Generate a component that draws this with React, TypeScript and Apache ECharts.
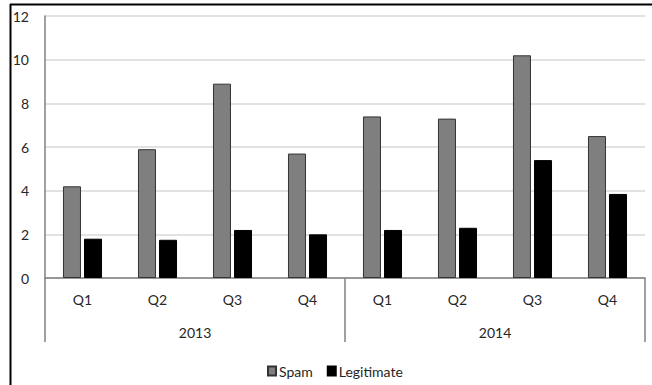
import React, { useEffect, useRef } from "react";
import * as echarts from "echarts";

const quarters = ["Q1", "Q2", "Q3", "Q4", "Q1", "Q2", "Q3", "Q4"];
const years = ["2013", "2014"];
const spam = [4.2, 5.9, 8.9, 5.7, 7.4, 7.3, 10.2, 6.5];
const legitimate = [1.8, 1.75, 2.2, 2.0, 2.2, 2.3, 5.4, 3.85];
const yTicks = { min: 0, max: 12, interval: 2 };

const FONT = "Lato, 'Open Sans', sans-serif";
const TEXT = "#262626";
const FS = 14;

export default function App() {
  const ref = useRef<HTMLDivElement>(null);
  useEffect(() => {
    if (!ref.current) return;
    const chart = echarts.init(ref.current, null, { renderer: "svg" });
    chart.setOption({
      animation: false,
      backgroundColor: "#fff",
      textStyle: { fontFamily: FONT },
      grid: { left: 45, right: 7, top: 16, bottom: 107, containLabel: false },
      legend: {
        data: ["Spam", "Legitimate"],
        left: 262,
        top: 359,
        itemWidth: 8,
        itemHeight: 9,
        itemGap: 14,
        icon: "rect",
        textStyle: { fontFamily: FONT, fontSize: FS, color: TEXT, padding: [0, 0, 0, -2] },
      },
      xAxis: [
        {
          type: "category",
          data: quarters,
          position: "bottom",
          axisLine: { show: true, lineStyle: { color: "#808080", width: 1.5 } },
          axisTick: { show: false },
          axisLabel: { color: TEXT, fontSize: FS, margin: 14, fontFamily: FONT },
          splitLine: { show: false },
        },
        {
          type: "category",
          data: years,
          position: "bottom",
          axisLine: { show: false },
          axisTick: { show: true, length: 64, lineStyle: { color: "#808080", width: 1.5 } },
          axisLabel: { color: TEXT, fontSize: FS, margin: 47, fontFamily: FONT },
          splitLine: { show: false },
        },
      ],
      yAxis: {
        type: "value",
        min: yTicks.min,
        max: yTicks.max,
        interval: yTicks.interval,
        axisLine: { show: true, lineStyle: { color: "#808080", width: 1.5 } },
        axisTick: { show: false },
        axisLabel: { color: TEXT, fontSize: FS, margin: 16, fontFamily: FONT },
        splitLine: { show: true, lineStyle: { color: "#d9d9d9", width: 1.5 } },
      },
      series: [
        {
          name: "Spam",
          type: "bar",
          xAxisIndex: 0,
          data: spam,
          barWidth: 18,
          barGap: "17%",
          itemStyle: { color: "#7f7f7f", borderColor: "#333", borderWidth: 1 },
        },
        {
          name: "Legitimate",
          type: "bar",
          xAxisIndex: 0,
          data: legitimate,
          barWidth: 18,
          barGap: "17%",
          itemStyle: { color: "#000", borderColor: "#000", borderWidth: 1 },
        },
      ],
      graphic: [
        {
          type: "line",
          shape: { x1: 10, y1: 4.5, x2: 652, y2: 4.5 },
          style: { stroke: "#000", lineWidth: 2 },
          silent: true,
        },
        {
          type: "line",
          shape: { x1: 10.5, y1: 4, x2: 10.5, y2: 385 },
          style: { stroke: "#000", lineWidth: 2 },
          silent: true,
        },
      ],
    });
    return () => chart.dispose();
  }, []);
  return <div ref={ref} style={{ width: 652, height: 385, position: "absolute", left: 0, top: 0 }} />;
}
